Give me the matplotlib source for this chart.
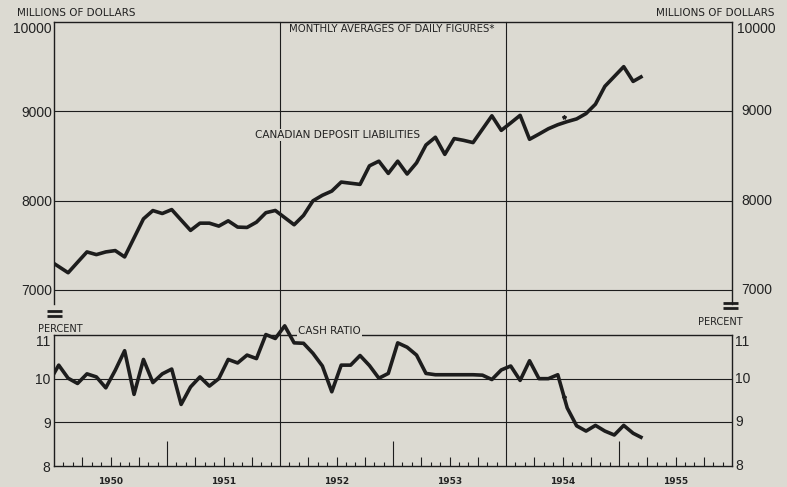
import matplotlib
matplotlib.use("Agg")
import matplotlib.pyplot as plt
from matplotlib.lines import Line2D
from matplotlib.patches import Rectangle
import matplotlib.transforms as mtrans
import numpy as np

# ---------------- data (monthly, Dec 1949 .. Mar 1955) ----------------
deposits = [7330,
            7262, 7193, 7310, 7426, 7396, 7426, 7441, 7370, 7583, 7796, 7889, 7856,
            7900, 7783, 7667, 7748, 7748, 7715, 7774, 7704, 7700, 7759, 7865, 7890,
            7810, 7730, 7835, 7998, 8060, 8107, 8208, 8195, 8182, 8390, 8442, 8305,
            8442, 8298, 8423, 8623, 8710, 8518, 8695, 8675, 8650, 8800, 8950, 8787,
            8870, 8955, 8687, 8745, 8805, 8850, 8885, 8915, 8975, 9080, 9280, 9390,
            9500, 9335, 9395]
cash_ratio = [9.93,
              10.31, 10.01, 9.89, 10.11, 10.04, 9.79, 10.19, 10.64, 9.64, 10.44, 9.91, 10.11,
              10.22, 9.41, 9.81, 10.04, 9.83, 10.00, 10.44, 10.36, 10.54, 10.46, 11.01, 10.92,
              11.21, 10.82, 10.81, 10.58, 10.29, 9.70, 10.31, 10.31, 10.53, 10.30, 10.01, 10.12,
              10.82, 10.72, 10.54, 10.12, 10.09, 10.09, 10.09, 10.09, 10.09, 10.08, 9.98, 10.20,
              10.29, 9.96, 10.41, 10.00, 10.00, 10.09, 9.33, 8.92, 8.80, 8.93, 8.80, 8.71,
              8.93, 8.75, 8.64]
star_month = [54.2]
star_deposit = [8937]
star_ratio = [9.59]
years = ['1950', '1951', '1952', '1953', '1954', '1955']
dep_ticks = [7000, 8000, 9000, 10000]
ratio_ticks = [8, 9, 10, 11]

# ---------------- style ----------------
W, H = 787, 487
BG = '#dcdad2'
INK = '#1d1d1d'
TXT = '#222222'
LBL_FONT = 'DejaVu Sans'
NUM_FONT = 'Liberation Sans'

def fx(px):
    return px / W

def fy(py):
    return 1 - py / H

fig = plt.figure(figsize=(W / 100, H / 100), dpi=100, facecolor=BG)

L, R = 54, 732
T1, B1 = 22, 304
T2, B2 = 335, 466
ax1 = fig.add_axes([fx(L), fy(B1), (R - L) / W, (B1 - T1) / H])
ax2 = fig.add_axes([fx(L), fy(B2), (R - L) / W, (B2 - T2) / H])

x = np.arange(len(deposits)) - 0.5
n_months = 12 * len(years)

for ax in (ax1, ax2):
    ax.set_facecolor('none')
    ax.set_xlim(0, n_months)
    for sp in ax.spines.values():
        sp.set_color(INK)
        sp.set_linewidth(1.0)

# ---------------- top panel ----------------
ax1.set_ylim(6843, 10000)
ax1.spines['bottom'].set_visible(False)
for v in dep_ticks[:-1]:
    ax1.axhline(v, color=INK, lw=0.8, zorder=1)
for m in (24, 48):
    ax1.axvline(m, ymin=-(T2 - B1) / (B1 - T1), ymax=1, color=INK, lw=0.8,
                zorder=1, clip_on=False)
ax1.plot(x, deposits, color=INK, lw=2.6, solid_joinstyle='round',
         solid_capstyle='butt', zorder=4)
ax1.plot(star_month, star_deposit, marker='*', ms=3, color=INK, ls='none', zorder=4)
ax1.set_xticks([])
ax1.set_yticks(dep_ticks)
ax1.set_yticklabels([str(v) for v in dep_ticks], fontfamily=NUM_FONT,
                    fontsize=10, color=TXT)
ax1.tick_params(axis='y', length=0, pad=1.5)
ax1.yaxis.get_major_ticks()[-1].label1.set_va('top')
tr1 = mtrans.blended_transform_factory(ax1.transAxes, ax1.transData)
for v in dep_ticks:
    top = v == dep_ticks[-1]
    ax1.text(1.0 + (5 if top else 9) / (R - L), v, str(v), transform=tr1,
             ha='left', va='top' if top else 'center',
             fontfamily=NUM_FONT, fontsize=10, color=TXT)

# ---------------- bottom panel ----------------
ax2.set_ylim(8, 11)
for v in ratio_ticks[1:-1]:
    ax2.axhline(v, color=INK, lw=0.8, zorder=1)
for m in (24, 48):
    ax2.axvline(m, color=INK, lw=0.8, zorder=1)
line2, = ax2.plot(x, cash_ratio, color=INK, lw=2.6, solid_joinstyle='round',
                  solid_capstyle='butt', zorder=4)
clip = Rectangle((0, -0.05), 1, 1.3, transform=ax2.transAxes, facecolor='none')
line2.set_clip_path(clip)
ax2.plot(star_month, star_ratio, marker='*', ms=3, color=INK, ls='none', zorder=4)

ax2.set_yticks(ratio_ticks)
ax2.set_yticklabels([str(v) for v in ratio_ticks], fontfamily=NUM_FONT,
                    fontsize=10, color=TXT)
ax2.tick_params(axis='y', length=0, pad=2.5)
tr2 = mtrans.blended_transform_factory(ax2.transAxes, ax2.transData)
for v in ratio_ticks:
    ax2.text(1.0 + 3 / (R - L), v, str(v), transform=tr2, ha='left',
             va='top' if v == ratio_ticks[-1] else 'center',
             fontfamily=NUM_FONT, fontsize=10, color=TXT)
ax2.yaxis.get_major_ticks()[-1].label1.set_va('top')

# month ticks along the base
xt = ax2.get_xaxis_transform()
hpx = B2 - T2
for m in range(1, n_months):
    if m % 12 == 0:
        if m in (24, 48):
            continue
        h = 25
    elif m % 3 == 0:
        h = 9
    else:
        h = 4
    ax2.plot([m, m], [0, h / hpx], color=INK, lw=0.8, transform=xt,
             solid_capstyle='butt', zorder=2)

ax2.set_xticks([12 * k + 6 for k in range(len(years))])
ax2.set_xticklabels(years, fontfamily=LBL_FONT, fontsize=6.5, color=TXT,
                    fontweight='bold')
ax2.tick_params(axis='x', length=0, pad=8)

# ---------------- labels ----------------
def ftext(ax, px, py, s, ha='left', box=False, size=7.3):
    kw = {}
    if box:
        kw['bbox'] = dict(facecolor=BG, edgecolor='none', pad=1.0)
    ax.text(fx(px), fy(py), s, transform=fig.transFigure, ha=ha, va='center',
            fontfamily=LBL_FONT, fontsize=size, color=TXT, zorder=3, **kw)

ftext(ax1, 17, 13, 'MILLIONS OF DOLLARS', size=7.5)
ftext(ax1, 774, 13.5, 'MILLIONS OF DOLLARS', ha='right', size=7.5)
ftext(ax1, 289, 29, 'MONTHLY AVERAGES OF DAILY FIGURES*', size=7.3)
ftext(ax1, 255, 135, 'CANADIAN DEPOSIT LIABILITIES', box=True, size=7.6)
ftext(ax2, 298, 331, 'CASH RATIO', box=True, size=7.5)
ftext(ax2, 38, 329, 'PERCENT', size=7.0)
ftext(ax2, 743, 322, 'PERCENT', ha='right', size=7.0)

# axis-break marks
for (x0, x1, ys) in ((47, 62, (311, 315.5)), (723, 738, (303, 307.5))):
    for yy in ys:
        fig.add_artist(Line2D([fx(x0), fx(x1)], [fy(yy), fy(yy)], color=INK,
                              lw=2.0, solid_capstyle='butt'))

fig.savefig('out.png', dpi=100, facecolor=BG)
